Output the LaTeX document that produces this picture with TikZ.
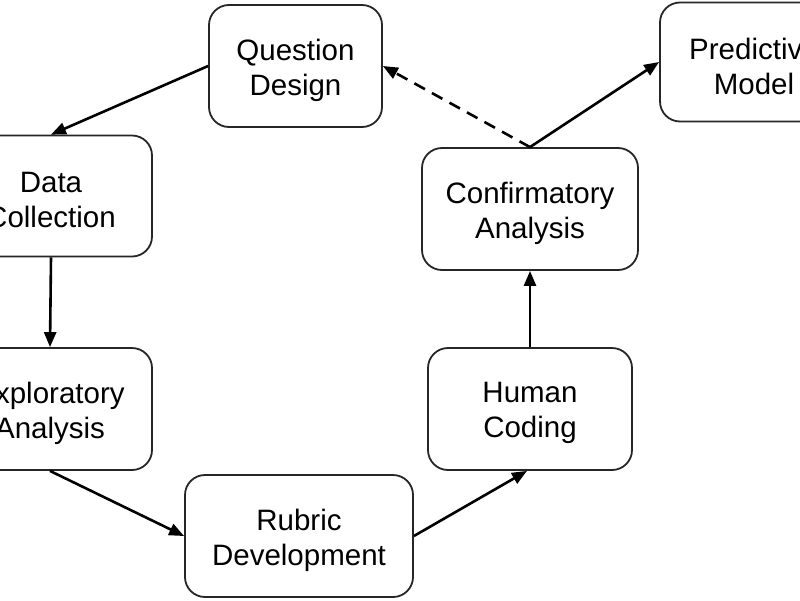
\documentclass[tikz,border=0pt]{standalone}
\usepackage{fontspec}
\setmainfont{Liberation Sans}
\usetikzlibrary{arrows.meta}
\begin{document}
\begin{tikzpicture}[x=1pt,y=-1pt,
  box/.style={draw=black!85, line width=1.8pt, rounded corners=20pt, inner sep=0pt},
  txt/.style={align=center, inner sep=0pt, font=\fontsize{29.5}{35}\selectfont},
  conn/.style={line width=2.6pt, -{Triangle[length=15pt,width=12pt]}},
  dconn/.style={conn, dash pattern=on 12pt off 8pt}]
\clip (0,0) rectangle (800,600);
\useasboundingbox (0,0) rectangle (800,600);
\node[box, minimum width=173pt, minimum height=122pt] (qd) at (295.5,66) {};
\node[box, minimum width=202pt, minimum height=121pt] (dc) at (51,196) {};
\node[box, minimum width=204pt, minimum height=122pt] (ea) at (50,409) {};
\node[box, minimum width=228pt, minimum height=122pt] (rd) at (299,536) {};
\node[box, minimum width=204pt, minimum height=122pt] (hc) at (530,409) {};
\node[box, minimum width=216pt, minimum height=122pt] (ca) at (530,209) {};
\node[box, minimum width=188pt, minimum height=119pt] (pm) at (754,62) {};
\node[txt] (qdt) at ([yshift=-4pt]qd.center) {Question\\Design};
\node[txt] (dct) at ([yshift=-4pt]dc.center) {Data\\Collection};
\node[txt] (eat) at ([yshift=-4pt]ea.center) {Exploratory\\Analysis};
\node[txt] (rdt) at ([yshift=-4pt]rd.center) {Rubric\\Development};
\node[txt] (hct) at ([yshift=-4pt]hc.center) {Human\\Coding};
\node[txt] (cat) at ([yshift=-4pt]ca.center) {Confirmatory\\Analysis};
\node[txt] (pmt) at ([yshift=-4pt]pm.center) {Predictive\\Model};
\draw[conn] (qd.west) -- (dc.north);
\draw[conn] (dc.south) -- (ea.north);
\draw[conn] (ea.south) -- (rd.west);
\draw[conn] (rd.east) -- (hc.south -| 527,0);
\draw[conn] (hc.north) -- (ca.south);
\draw[conn] (ca.north) -- (pm.west);
\draw[dconn] (ca.north) -- (qd.east);
\end{tikzpicture}
\end{document}
